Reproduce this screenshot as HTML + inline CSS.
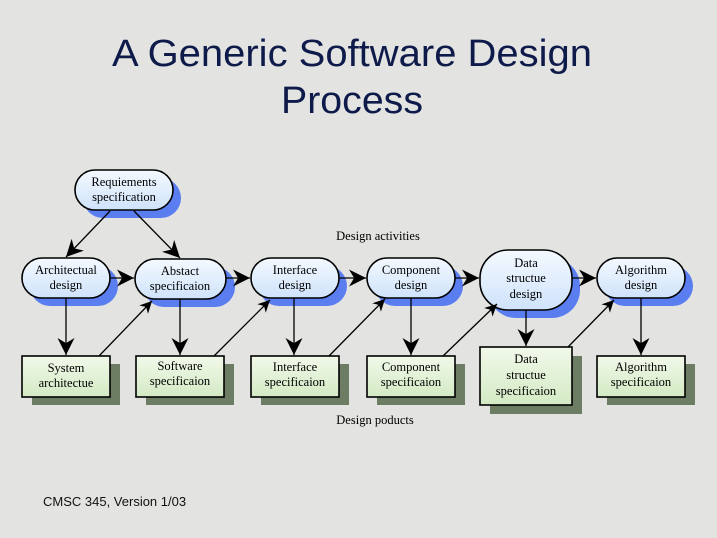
<!DOCTYPE html>
<html><head><meta charset="utf-8"><style>
html,body{margin:0;padding:0;}
body{width:717px;height:538px;background:#e3e3e1;overflow:hidden;}
svg{display:block;}
</style></head><body>
<svg width="717" height="538" viewBox="0 0 717 538" xmlns="http://www.w3.org/2000/svg">
<defs>
<linearGradient id="bl" x1="0" y1="0" x2="0" y2="1"><stop offset="0" stop-color="#f4f9ff"/><stop offset="1" stop-color="#cfe3fb"/></linearGradient>
<linearGradient id="gr" x1="0" y1="0" x2="0" y2="1"><stop offset="0" stop-color="#f2f9ea"/><stop offset="1" stop-color="#d3eac4"/></linearGradient>
<marker id="a" viewBox="0 0 10 10" refX="10" refY="5" markerWidth="12" markerHeight="12" markerUnits="userSpaceOnUse" orient="auto"><path d="M0,0 L10,5 L0,10 L3,5 Z" fill="#000"/></marker>
<marker id="A" viewBox="0 0 10 10" refX="10" refY="5" markerWidth="17" markerHeight="17" markerUnits="userSpaceOnUse" orient="auto"><path d="M0,0 L10,5 L0,10 L3,5 Z" fill="#000"/></marker>
</defs>
<g font-family="Liberation Sans, sans-serif" fill="#0e1a4a" font-size="38">
<text x="352" y="66" text-anchor="middle" textLength="480" lengthAdjust="spacingAndGlyphs">A Generic Software Design</text>
<text x="352" y="113" text-anchor="middle" textLength="142" lengthAdjust="spacingAndGlyphs">Process</text>
</g>
<text x="43" y="506" font-family="Liberation Sans, sans-serif" font-size="13" fill="#111">CMSC 345, Version 1/03</text>

<!-- shadows -->
<g fill="#5a7ef0">
<rect x="83" y="178" width="98" height="40" rx="20"/>
<rect x="30" y="266" width="88" height="40" rx="20"/>
<rect x="144" y="267" width="91" height="40" rx="20"/>
<rect x="259" y="266" width="88" height="40" rx="20"/>
<rect x="375" y="266" width="88" height="40" rx="20"/>
<rect x="488" y="258" width="92" height="60" rx="28"/>
<rect x="605" y="266" width="88" height="40" rx="20"/>
</g>
<g fill="#6d7d63">
<rect x="32" y="364" width="88" height="41"/>
<rect x="146" y="364" width="88" height="41"/>
<rect x="261" y="364" width="88" height="41"/>
<rect x="377" y="364" width="88" height="41"/>
<rect x="490" y="356" width="92" height="58"/>
<rect x="607" y="364" width="88" height="41"/>
</g>
<!-- nodes -->
<g fill="url(#bl)" stroke="#000" stroke-width="1.6">
<rect x="75" y="170" width="98" height="40" rx="20"/>
<rect x="22" y="258" width="88" height="40" rx="20"/>
<rect x="135" y="259" width="91" height="40" rx="20"/>
<rect x="251" y="258" width="88" height="40" rx="20"/>
<rect x="367" y="258" width="88" height="40" rx="20"/>
<rect x="480" y="250" width="92" height="60" rx="28"/>
<rect x="597" y="258" width="88" height="40" rx="20"/>
</g>
<g fill="url(#gr)" stroke="#000" stroke-width="1.6">
<rect x="22" y="356" width="88" height="41"/>
<rect x="136" y="356" width="88" height="41"/>
<rect x="251" y="356" width="88" height="41"/>
<rect x="367" y="356" width="88" height="41"/>
<rect x="480" y="347" width="92" height="58"/>
<rect x="597" y="356" width="88" height="41"/>
</g>
<!-- arrows -->
<g stroke="#000" stroke-width="1.3" fill="none">
<line x1="110" y1="211" x2="66" y2="257" marker-end="url(#A)"/>
<line x1="134" y1="211" x2="180" y2="258" marker-end="url(#A)"/>
<line x1="110" y1="278" x2="134" y2="278" marker-end="url(#A)"/>
<line x1="226" y1="278" x2="250" y2="278" marker-end="url(#A)"/>
<line x1="339" y1="278" x2="366" y2="278" marker-end="url(#A)"/>
<line x1="455" y1="278" x2="479" y2="278" marker-end="url(#A)"/>
<line x1="572" y1="278" x2="596" y2="278" marker-end="url(#A)"/>
<line x1="66" y1="298" x2="66" y2="355" marker-end="url(#A)"/>
<line x1="180" y1="299" x2="180" y2="355" marker-end="url(#A)"/>
<line x1="294" y1="298" x2="294" y2="355" marker-end="url(#A)"/>
<line x1="411" y1="298" x2="411" y2="355" marker-end="url(#A)"/>
<line x1="526" y1="310" x2="526" y2="346" marker-end="url(#A)"/>
<line x1="641" y1="298" x2="641" y2="355" marker-end="url(#A)"/>
<line x1="99" y1="356" x2="152" y2="301" marker-end="url(#a)"/>
<line x1="214" y1="356" x2="270" y2="300" marker-end="url(#a)"/>
<line x1="329" y1="356" x2="385" y2="299" marker-end="url(#a)"/>
<line x1="443" y1="356" x2="497" y2="304" marker-end="url(#a)"/>
<line x1="568" y1="347" x2="614" y2="300" marker-end="url(#a)"/>
</g>
<!-- labels -->
<g font-family="Liberation Serif, serif" font-size="12.5" fill="#000" text-anchor="middle">
<text x="124" y="186">Requiements</text><text x="124" y="201">specification</text>
<text x="66" y="274">Architectual</text><text x="66" y="289">design</text>
<text x="180" y="275">Abstact</text><text x="180" y="290">specificaion</text>
<text x="295" y="274">Interface</text><text x="295" y="289">design</text>
<text x="411" y="274">Component</text><text x="411" y="289">design</text>
<text x="526" y="267">Data</text><text x="526" y="282">structue</text><text x="526" y="298">design</text>
<text x="641" y="274">Algorithm</text><text x="641" y="289">design</text>
<text x="66" y="372">System</text><text x="66" y="387">architectue</text>
<text x="180" y="370">Software</text><text x="180" y="385">specificaion</text>
<text x="295" y="371">Interface</text><text x="295" y="386">specificaion</text>
<text x="411" y="371">Component</text><text x="411" y="386">specificaion</text>
<text x="526" y="363">Data</text><text x="526" y="379">structue</text><text x="526" y="395">specificaion</text>
<text x="641" y="371">Algorithm</text><text x="641" y="386">specificaion</text>
<text x="378" y="240">Design activities</text>
<text x="375" y="424">Design poducts</text>
</g>
</svg>
</body></html>
